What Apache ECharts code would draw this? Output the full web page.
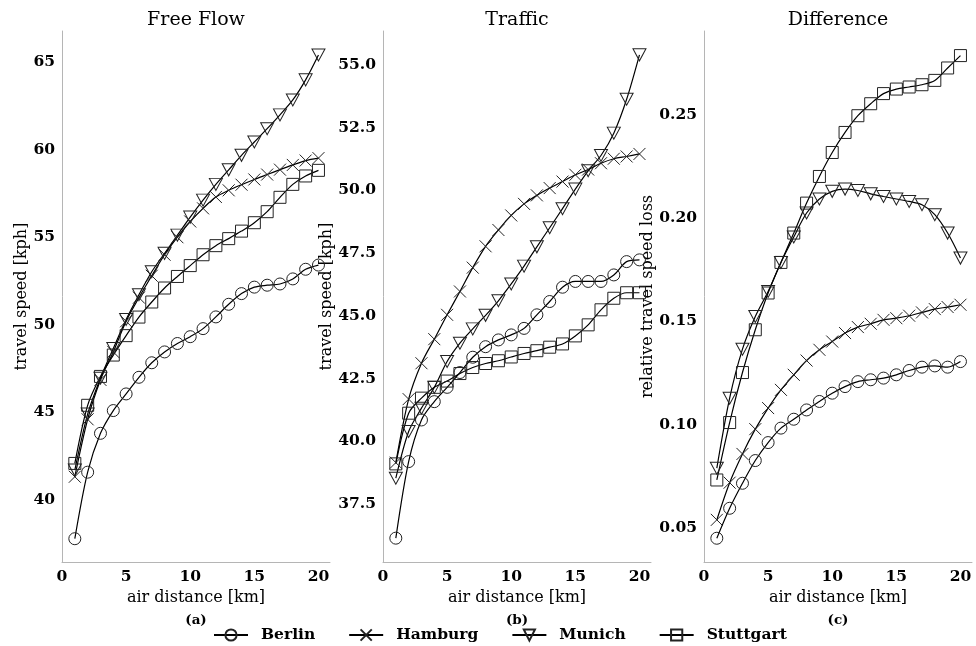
<!DOCTYPE html>
<html><head><meta charset="utf-8">
<script src="https://cdn.jsdelivr.net/npm/echarts/dist/echarts.min.js"></script>
<style>html,body{margin:0;padding:0;background:#fff}#chart{width:976px;height:646px}</style>
</head><body><div id="chart"></div>
<script>
const distances = [1,2,3,4,5,6,7,8,9,10,11,12,13,14,15,16,17,18,19,20];
const cities = ['Berlin','Hamburg','Munich','Stuttgart'];
const panelTitles = ['Free Flow','Traffic','Difference'];
const panelCaptions = ['(a)','(b)','(c)'];
const yNames = ['travel speed [kph]','travel speed [kph]','relative travel speed loss'];
const xName = 'air distance [km]';
const xTicks = [0,5,10,15,20];
const yTicksFree = [40,45,50,55,60,65];
const yTicksTraffic = [37.5,40,42.5,45,47.5,50,52.5,55];
const yTicksDiff = [0.05,0.10,0.15,0.20,0.25];

// Free flow speed [kph]
const berlinFree    = [37.78,41.58,43.80,45.10,46.05,47.00,47.83,48.45,48.93,49.32,49.78,50.45,51.17,51.78,52.15,52.26,52.33,52.62,53.17,53.41];
const hamburgFree   = [41.32,44.60,46.85,48.45,50.20,51.55,52.80,54.00,55.00,55.90,56.65,57.30,57.68,58.00,58.30,58.58,58.86,59.13,59.38,59.52];
const munichFree    = [41.70,44.90,46.95,48.65,50.30,51.72,53.03,54.08,55.12,56.15,57.12,58.02,58.85,59.68,60.44,61.20,61.99,62.84,63.99,65.41];
const stuttgartFree = [42.08,45.40,47.05,48.27,49.38,50.44,51.30,52.10,52.76,53.38,54.00,54.52,54.92,55.35,55.83,56.46,57.28,58.02,58.50,58.82];
// Traffic speed [kph]
const berlinTraffic    = [36.14,39.19,40.85,41.58,42.15,42.74,43.35,43.77,44.04,44.24,44.50,45.04,45.57,46.14,46.37,46.37,46.37,46.63,47.16,47.23];
const hamburgTraffic   = [39.15,41.68,43.11,44.07,45.04,45.97,46.92,47.77,48.42,49.00,49.46,49.80,50.09,50.35,50.62,50.83,51.08,51.26,51.35,51.45];
const munichTraffic    = [38.53,40.39,41.32,42.15,43.18,43.91,44.48,45.02,45.60,46.27,46.98,47.75,48.51,49.27,50.05,50.78,51.39,52.28,53.63,55.40];
const stuttgartTraffic = [39.10,41.12,41.72,42.15,42.40,42.70,42.94,43.10,43.21,43.36,43.50,43.61,43.75,43.88,44.20,44.64,45.24,45.70,45.92,45.92];
// Relative travel speed loss
const berlinDiff    = [0.0450,0.0595,0.0716,0.0826,0.0913,0.0983,0.1026,0.1071,0.1112,0.1152,0.1184,0.1208,0.1217,0.1225,0.1241,0.1262,0.1278,0.1284,0.1278,0.1305];
const hamburgDiff   = [0.0539,0.0719,0.0858,0.0978,0.1080,0.1168,0.1241,0.1310,0.1362,0.1402,0.1443,0.1472,0.1488,0.1507,0.1515,0.1527,0.1543,0.1559,0.1569,0.1580];
const munichDiff    = [0.0789,0.1128,0.1365,0.1523,0.1644,0.1785,0.1908,0.2024,0.2092,0.2129,0.2140,0.2133,0.2117,0.2104,0.2092,0.2080,0.2064,0.2016,0.1927,0.1806];
const stuttgartDiff = [0.0732,0.1010,0.1252,0.1459,0.1637,0.1785,0.1927,0.2072,0.2201,0.2317,0.2414,0.2495,0.2553,0.2602,0.2624,0.2634,0.2645,0.2666,0.2726,0.2786];

const panels = [
  {data:[berlinFree,hamburgFree,munichFree,stuttgartFree], ticks:yTicksFree, step:5, dec:0, min:36.45, max:66.78},
  {data:[berlinTraffic,hamburgTraffic,munichTraffic,stuttgartTraffic], ticks:yTicksTraffic, step:2.5, dec:1, min:35.19, max:56.35},
  {data:[berlinDiff,hamburgDiff,munichDiff,stuttgartDiff], ticks:yTicksDiff, step:0.05, dec:2, min:0.0335, max:0.2905}
];

const SERIF = '"DejaVu Serif", serif';
const gridLefts = [62, 383, 704];
const gridW = 268, gridTop = 31, gridH = 531;
const nameGaps = [29, 47, 47];
const symbolOf = {
  Berlin: 'circle',
  Hamburg: 'path://M0,0L10,10M10,0L0,10',
  Munich: 'path://M0,0L10,0L5,9Z',
  Stuttgart: 'rect'
};
const sizeOf = {Berlin: 12, Hamburg: 12, Munich: [13, 12], Stuttgart: 12};

function tickFormatter(ticks, dec) {
  return function (v) {
    for (const t of ticks) if (Math.abs(v - t) < 1e-6) return t.toFixed(dec);
    return '';
  };
}

const axisLineStyle = {lineStyle: {color: '#b5b5b5', width: 1}};
const labelStyle = {fontFamily: SERIF, fontWeight: 'bold', fontSize: 15.5, color: '#000'};
const nameStyle = {fontFamily: SERIF, fontSize: 16, color: '#000'};

const grid = [], xAxis = [], yAxis = [], series = [], title = [];
panels.forEach((p, k) => {
  grid.push({left: gridLefts[k], top: gridTop, width: gridW, height: gridH, containLabel: false});
  xAxis.push({
    type: 'value', gridIndex: k, min: 0, max: 20.9, minInterval: 5, maxInterval: 5,
    axisLine: axisLineStyle, axisTick: {show: false}, splitLine: {show: false},
    axisLabel: Object.assign({margin: 7, formatter: tickFormatter(xTicks, 0)}, labelStyle),
    name: xName, nameLocation: 'middle', nameGap: 26, nameTextStyle: nameStyle
  });
  yAxis.push({
    type: 'value', gridIndex: k, min: p.min, max: p.max, minInterval: p.step, maxInterval: p.step,
    axisLine: Object.assign({show: true}, axisLineStyle), axisTick: {show: false}, splitLine: {show: false},
    axisLabel: Object.assign({margin: 7, formatter: tickFormatter(p.ticks, p.dec)}, labelStyle),
    name: yNames[k], nameLocation: 'middle', nameGap: nameGaps[k], nameTextStyle: nameStyle
  });
  title.push({
    text: panelTitles[k], left: gridLefts[k] + gridW / 2, top: 11, textAlign: 'center', padding: 0,
    textStyle: {fontFamily: SERIF, fontWeight: 'normal', fontSize: 19, color: '#000'}
  });
  title.push({
    text: panelCaptions[k], left: gridLefts[k] + gridW / 2, top: 613, textAlign: 'center', padding: 0,
    textStyle: {fontFamily: SERIF, fontWeight: 'bold', fontSize: 13.5, color: '#000'}
  });
  cities.forEach((c, j) => {
    series.push({
      type: 'line', name: c, xAxisIndex: k, yAxisIndex: k,
      data: distances.map((d, i) => [d, p.data[j][i]]),
      smooth: 0.3, symbol: symbolOf[c], symbolSize: sizeOf[c], showAllSymbol: true,
      itemStyle: {color: 'rgba(0,0,0,0)', borderColor: '#222', borderWidth: 1},
      lineStyle: {color: '#000', width: 1.2},
      emphasis: {disabled: true}, silent: true, animation: false
    });
  });
});

const chart = echarts.init(document.getElementById('chart'), null, {renderer: 'canvas'});
chart.setOption({
  backgroundColor: '#fff',
  animation: false,
  title: title,
  grid: grid, xAxis: xAxis, yAxis: yAxis, series: series,
  legend: {
    data: cities, left: 213, top: 627, padding: 0, itemWidth: 34, itemHeight: 14, itemGap: 33,
    textStyle: {fontFamily: SERIF, fontWeight: 'bold', fontSize: 15.5, color: '#000', padding: [0, 0, 0, 8]},
    selectedMode: false
  }
});
</script></body></html>
